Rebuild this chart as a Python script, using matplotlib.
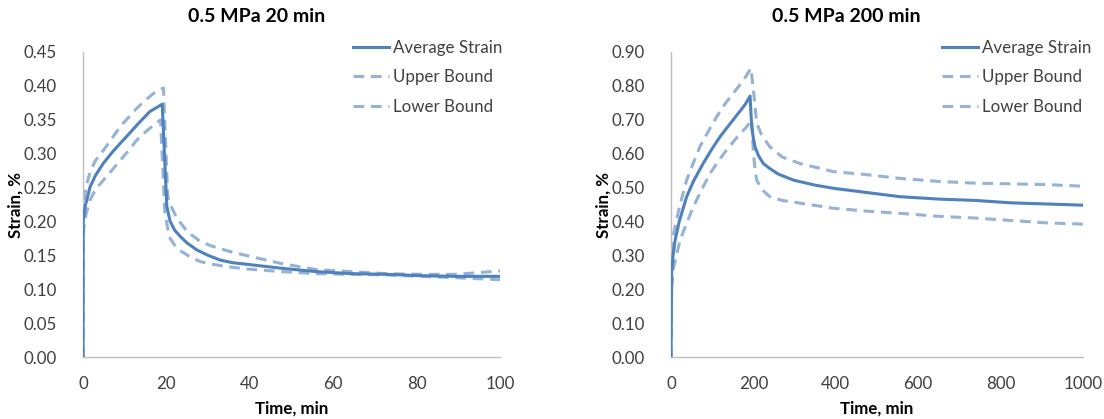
import matplotlib
matplotlib.use("Agg")
import matplotlib.pyplot as plt

plt.rcParams['font.family'] = ['Lato', 'DejaVu Sans']

# 0.5 MPa, 20 min loading
t20 = [0, 0.05, 0.5, 1.7, 3.0, 4.9, 7.0, 8.9, 11.0, 12.9, 16.0, 19.0, 19.6, 20.1,
       20.9, 22.0, 23.3, 25.0, 27.3, 30.0, 32.9, 36.0, 39.0, 47.5, 55.9, 64.3, 72.7,
       81.0, 89.5, 100]
avg20 = [0.0, 0.200, 0.222, 0.251, 0.268, 0.286, 0.302, 0.315, 0.329, 0.342, 0.362,
         0.373, 0.290, 0.222, 0.200, 0.187, 0.178, 0.168, 0.158, 0.150, 0.143, 0.139,
         0.137, 0.131, 0.126, 0.123, 0.122, 0.120, 0.119, 0.119]

t20_up = [0, 0.05, 0.7, 1.7, 3.0, 4.9, 7.0, 8.9, 11.0, 12.9, 15.0, 16.9, 19.3, 20.3,
          20.6, 22.5, 25.0, 28.0, 30.7, 35.0, 39.0, 47.5, 55.9, 64.3, 72.7, 81.0,
          89.5, 100]
up20 = [0.0, 0.224, 0.250, 0.273, 0.290, 0.305, 0.323, 0.340, 0.354, 0.367, 0.379,
        0.389, 0.397, 0.240, 0.229, 0.205, 0.185, 0.171, 0.164, 0.156, 0.150, 0.138,
        0.129, 0.126, 0.123, 0.122, 0.122, 0.127]

t20_lo = [0, 0.05, 0.7, 1.7, 3.0, 4.9, 7.0, 8.9, 11.0, 12.9, 15.0, 16.9, 18.6, 19.6,
          20.3, 20.9, 22.0, 23.3, 25.6, 28.0, 30.7, 35.0, 39.0, 47.5, 55.9, 64.3,
          72.7, 81.0, 89.5, 100]
lo20 = [0.0, 0.185, 0.210, 0.232, 0.247, 0.261, 0.276, 0.290, 0.305, 0.320, 0.332,
        0.342, 0.350, 0.215, 0.190, 0.175, 0.165, 0.157, 0.148, 0.141, 0.137, 0.133,
        0.130, 0.126, 0.123, 0.122, 0.121, 0.119, 0.117, 0.114]

# 0.5 MPa, 200 min loading
t200 = [0, 1.6, 5, 10, 20, 38, 55, 78, 100, 119, 140, 160, 180, 192, 194, 196, 200,
        204, 212, 224, 240, 260, 297, 350, 399, 484, 556, 650, 739, 823, 900, 1000]
avg200 = [0.0, 0.247, 0.300, 0.345, 0.400, 0.473, 0.520, 0.571, 0.615, 0.650, 0.683,
          0.714, 0.745, 0.770, 0.720, 0.680, 0.645, 0.620, 0.595, 0.571, 0.556, 0.540,
          0.522, 0.507, 0.497, 0.484, 0.473, 0.466, 0.462, 0.455, 0.452, 0.448]

t200_up = [0, 1.5, 10, 20, 38, 55, 70, 90, 111, 130, 151, 175, 194, 200, 204, 208,
           220, 240, 270, 313, 394, 467, 556, 650, 739, 908, 1000]
up200 = [0.0, 0.336, 0.385, 0.440, 0.522, 0.575, 0.620, 0.665, 0.709, 0.745, 0.778,
         0.815, 0.852, 0.788, 0.740, 0.690, 0.655, 0.620, 0.590, 0.571, 0.547, 0.539,
         0.527, 0.518, 0.513, 0.509, 0.504]

t200_lo = [0, 1.5, 5, 22, 38, 54, 75, 95, 115, 135, 160, 184, 196, 200, 204, 208,
           220, 240, 270, 313, 394, 480, 556, 650, 739, 908, 1000]
lo200 = [0.0, 0.200, 0.257, 0.345, 0.395, 0.443, 0.495, 0.542, 0.578, 0.611, 0.648,
         0.680, 0.699, 0.601, 0.555, 0.522, 0.495, 0.473, 0.462, 0.454, 0.439, 0.430,
         0.424, 0.415, 0.410, 0.396, 0.392]

titles = ["0.5 MPa 20 min", "0.5 MPa 200 min"]
x_ticks = [[0, 20, 40, 60, 80, 100], [0, 200, 400, 600, 800, 1000]]
y_ticks = [[0.00, 0.05, 0.10, 0.15, 0.20, 0.25, 0.30, 0.35, 0.40, 0.45],
           [0.00, 0.10, 0.20, 0.30, 0.40, 0.50, 0.60, 0.70, 0.80, 0.90]]

AVG_C = "#4F81BD"
BND_C = "#95B3D7"
TXT_C = "#404040"

W, H = 1104, 419
fig = plt.figure(figsize=(W / 100, H / 100), dpi=100)

panels = [
    dict(rect=(83, 52, 500, 357), series=(t20, avg20, t20_up, up20, t20_lo, lo20),
         title_x=257, ylabel_x=16, legend_x=353),
    dict(rect=(671, 52, 1083, 357), series=(t200, avg200, t200_up, up200, t200_lo, lo200),
         title_x=846, ylabel_x=604, legend_x=942),
]

for i, p in enumerate(panels):
    x0, y0, x1, y1 = p["rect"]
    ax = fig.add_axes([x0 / W, 1 - y1 / H, (x1 - x0) / W, (y1 - y0) / H])
    ta, a, tu, u, tl, l = p["series"]
    ax.plot(ta, a, color=AVG_C, lw=2.2, label="Average Strain", zorder=3)
    ax.plot(tu, u, color=BND_C, lw=2.2, dashes=(3.5, 2.2), label="Upper Bound", zorder=2)
    ax.plot(tl, l, color=BND_C, lw=2.2, dashes=(3.5, 2.2), label="Lower Bound", zorder=2)

    ax.set_xlim(x_ticks[i][0], x_ticks[i][-1])
    ax.set_ylim(y_ticks[i][0], y_ticks[i][-1])
    ax.set_xticks(x_ticks[i])
    ax.set_yticks(y_ticks[i])
    ax.set_yticklabels([f"{v:.2f}" for v in y_ticks[i]])
    ax.tick_params(length=0, labelsize=12.2, colors=TXT_C)
    ax.tick_params(axis='y', pad=19)
    ax.tick_params(axis='x', pad=14)
    for side in ("top", "right"):
        ax.spines[side].set_visible(False)
    for side in ("left", "bottom"):
        ax.spines[side].set_color("#BFBFBF")
        ax.spines[side].set_linewidth(1.0)

    ax.set_xlabel("Time, min", fontsize=12.2, fontweight="bold", color="black", labelpad=6)
    fig.text(p["ylabel_x"] / W, 1 - 204.5 / H, "Strain, %", rotation=90, fontsize=12.2,
             fontweight="bold", ha="center", va="center")
    fig.text(p["title_x"] / W, 1 - 17 / H, titles[i], fontsize=14, fontweight="bold",
             ha="center", va="center")

    leg = ax.legend(loc="upper left",
                    bbox_to_anchor=((p["legend_x"] - x0) / (x1 - x0), 1.04),
                    frameon=False, fontsize=12.2, handlelength=2.1, handletextpad=0.25,
                    labelspacing=0.8, borderaxespad=0, borderpad=0)
    for txt in leg.get_texts():
        txt.set_color(TXT_C)

fig.savefig("out.png", dpi=100)
